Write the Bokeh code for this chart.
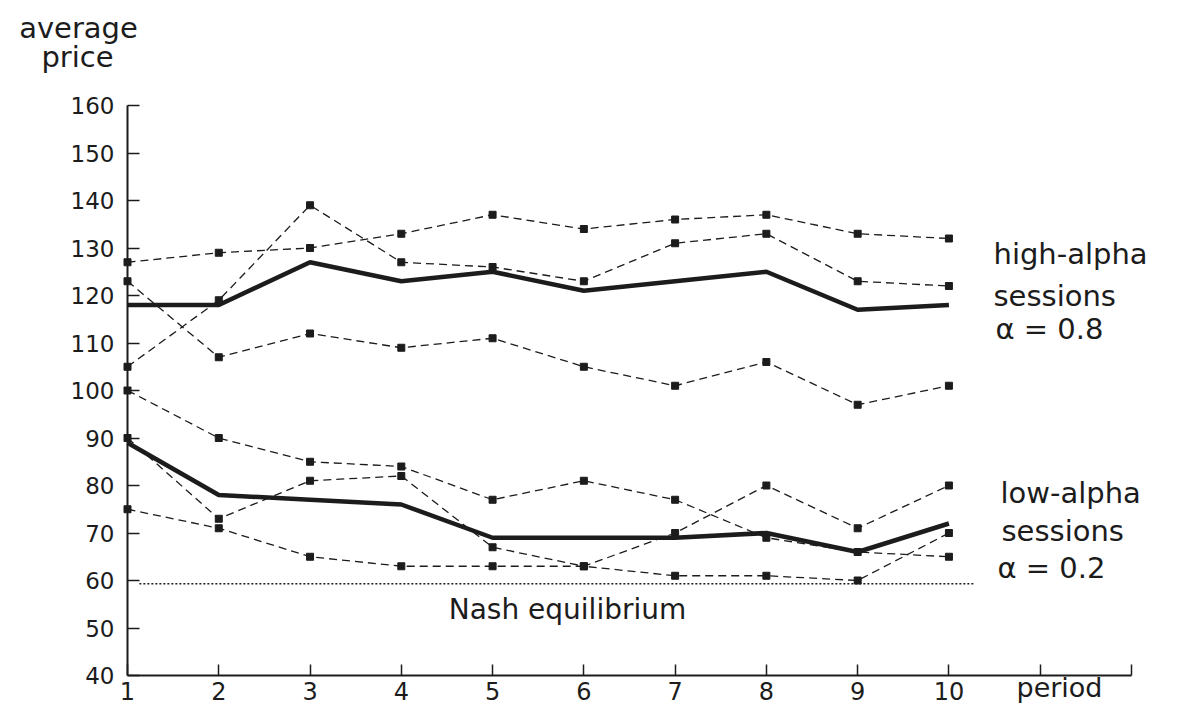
from bokeh.plotting import figure
from bokeh.models import Range1d, FixedTicker, Label, LinearAxis
from bokeh.embed import file_html
from bokeh.resources import INLINE

# ---- data ----
periods = [1, 2, 3, 4, 5, 6, 7, 8, 9, 10]
high_s1 = [127, 129, 130, 133, 137, 134, 136, 137, 133, 132]
high_s2 = [123, 107, 112, 109, 111, 105, 101, 106, 97, 101]
high_s3 = [105, 119, 139, 127, 126, 123, 131, 133, 123, 122]
high_mean = [118, 118, 127, 123, 125, 121, 123, 125, 117, 118]
low_s1 = [100, 90, 85, 84, 77, 81, 77, 69, 66, 65]
low_s2 = [90, 73, 81, 82, 67, 63, 70, 80, 71, 80]
low_s3 = [75, 71, 65, 63, 63, 63, 61, 61, 60, 70]
low_mean = [89, 78, 77, 76, 69, 69, 69, 70, 66, 72]
nash_x = [1.13, 10.27]
nash_y = [59.3, 59.3]
x_ticks = list(range(1, 13))
x_tick_labels = {1: "1", 2: "2", 3: "3", 4: "4", 5: "5", 6: "6", 7: "7",
                 8: "8", 9: "9", 10: "10", 11: "", 12: ""}
y_ticks = list(range(40, 161, 10))

# ---- geometry (pixel scale of the reference) ----
W, H = 1185, 709
AX_X, AX_Y = 127, 675   # pixel position of the origin (period 1, price 40)
XS = 91.27   # px per period
YS = 4.75    # px per price unit
x0 = 1 - AX_X / XS
x1 = 1 + (W - AX_X) / XS
y0 = 40 - (H - AX_Y) / YS
y1 = 40 + AX_Y / YS

def dx(px):
    return 1 + (px - AX_X) / XS

def dy(py):
    return 40 + (AX_Y - py) / YS

INK = "#1c1c1c"
FONT = "DejaVu Sans"

p = figure(width=W, height=H, output_backend="svg", toolbar_location=None,
           x_range=Range1d(x0, x1), y_range=Range1d(y0, y1),
           x_axis_type=None, y_axis_type=None,
           min_border_left=0, min_border_right=0, min_border_top=0,
           min_border_bottom=0)
p.outline_line_color = None
p.background_fill_color = "white"

xa = LinearAxis(fixed_location=40, bounds=(1, 12),
                ticker=FixedTicker(ticks=x_ticks))
xa.major_label_overrides = x_tick_labels
xa.major_tick_in = 11
xa.major_tick_out = 0
xa.minor_tick_line_color = None
xa.axis_line_width = 2
xa.major_tick_line_width = 1.5
xa.axis_line_color = INK
xa.major_tick_line_color = INK
xa.major_label_text_font = FONT
xa.major_label_text_font_size = "24px"
xa.major_label_text_color = INK
xa.major_label_standoff = 6
p.add_layout(xa, "below")

ya = LinearAxis(fixed_location=1, bounds=(40, 160),
                ticker=FixedTicker(ticks=y_ticks))
ya.major_tick_in = 12
ya.major_tick_out = 0
ya.minor_tick_line_color = None
ya.axis_line_width = 2
ya.major_tick_line_width = 1.5
ya.axis_line_color = INK
ya.major_tick_line_color = INK
ya.major_label_text_font = FONT
ya.major_label_text_font_size = "23px"
ya.major_label_text_color = INK
ya.major_label_standoff = 13
p.add_layout(ya, "left")

# Nash equilibrium line
p.line(nash_x, nash_y, line_color=INK, line_width=1.5, line_dash="2 2")

# individual sessions (dashed with square markers)
for s in [high_s1, high_s2, high_s3, low_s1, low_s2, low_s3]:
    p.line(periods, s, line_color=INK, line_width=1.3, line_dash="8 5")
    p.scatter(periods, s, marker="square", size=7, fill_color=INK, line_color=INK)

# averages (thick solid)
for s in [high_mean, low_mean]:
    p.line(periods, s, line_color=INK, line_width=4.5)

# ---- texts ----
SHIFT = 10  # rendered baseline sits lower than requested

def add_text(txt, px, base, size="29px", align="left"):
    p.add_layout(Label(x=dx(px), y=dy(base - SHIFT), text=txt, text_font=FONT,
                       text_font_size=size, text_color=INK, text_align=align,
                       text_baseline="alphabetic"))

add_text("average", 78, 37, align="center")
add_text("price", 77, 66, align="center")
add_text("high-alpha", 993, 263)
add_text("sessions", 993, 305)
add_text("\u03b1 =  0.8", 995, 338)
add_text("low-alpha", 1000, 502)
add_text("sessions", 1001, 540)
add_text("\u03b1 =  0.2", 997, 577)
add_text("Nash equilibrium", 567, 619, size="28px", align="center")
add_text("period", 1059, 697, size="27px", align="center")

open("out.html", "w").write(file_html(p, INLINE))
